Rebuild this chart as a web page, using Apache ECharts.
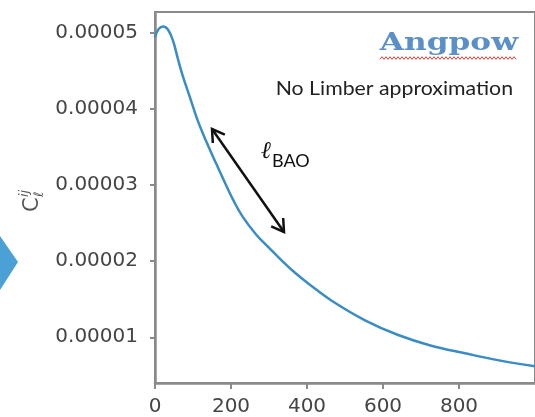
<!DOCTYPE html>
<html>
<head>
<meta charset="utf-8">
<style>
  html, body { margin: 0; padding: 0; background: #ffffff; }
  #chart { width: 535px; height: 417px; }
</style>
<script src="https://cdn.jsdelivr.net/npm/echarts@6/dist/echarts.min.js"></script>
</head>
<body>
<div id="chart"></div>
<script>
// Multipole values and angular power spectrum C_l^{ij}
const ell = [0, 10, 22, 34, 47, 60, 73, 92, 112, 135, 161, 185, 205, 231, 266, 301, 335, 370, 405, 465, 554, 640, 727, 816, 902, 1000];
const clValues = [4.94e-5, 5.05e-5, 5.08e-5, 5.04e-5, 4.90e-5, 4.66e-5, 4.43e-5, 4.15e-5, 3.85e-5, 3.57e-5, 3.28e-5, 3.02e-5, 2.81e-5, 2.58e-5, 2.35e-5, 2.17e-5, 2.00e-5, 1.84e-5, 1.70e-5, 1.48e-5, 1.22e-5, 1.03e-5, 0.89e-5, 0.79e-5, 0.70e-5, 0.62e-5];

// Axis tick positions
const xTicks = [0, 200, 400, 600, 800];
const yTicks = [0.00001, 0.00002, 0.00003, 0.00004, 0.00005];

const axisGray = '#8a8a8a';
const labelColor = '#454545';
const tickFont = 'DejaVu Sans';

const chart = echarts.init(document.getElementById('chart'), null, { renderer: 'canvas' });

// open chevron arrow head at the tip of a segment
function arrowHead(tip, from, len, ang) {
  const dx = from[0] - tip[0], dy = from[1] - tip[1];
  const a = Math.atan2(dy, dx);
  return [
    [tip[0] + len * Math.cos(a + ang), tip[1] + len * Math.sin(a + ang)],
    tip,
    [tip[0] + len * Math.cos(a - ang), tip[1] + len * Math.sin(a - ang)]
  ];
}
const arrA = [212, 129], arrB = [284, 232];

// red wavy spell-check underline beneath the logo text
const wave = [];
for (let x = 380, i = 0; x <= 516; x += 2, i++) {
  wave.push([x, 58 + (i % 2 ? -1.3 : 1.3)]);
}

const option = {
  backgroundColor: '#ffffff',
  animation: false,
  grid: {
    left: 155, right: -3, top: 12, bottom: 34,
    show: true, borderColor: axisGray, borderWidth: 2
  },
  xAxis: {
    type: 'value',
    min: 0, max: 1000,
    axisLine: { show: true, onZero: false, lineStyle: { color: axisGray, width: 2.5 } },
    axisTick: { show: true, customValues: xTicks, length: 6, lineStyle: { color: axisGray, width: 2 } },
    axisLabel: { customValues: xTicks, fontSize: 20, fontFamily: tickFont, color: labelColor, margin: 14 },
    splitLine: { show: false }
  },
  yAxis: {
    type: 'value',
    min: 0.000004, max: 0.0000527,
    axisLine: { show: true, lineStyle: { color: axisGray, width: 2.5 } },
    axisTick: { show: true, customValues: yTicks, length: 5, lineStyle: { color: axisGray, width: 2 } },
    axisLabel: {
      customValues: yTicks, fontSize: 20, fontFamily: tickFont, color: labelColor, margin: 17,
      formatter: v => v.toFixed(5)
    },
    splitLine: { show: false }
  },
  series: [{
    type: 'line',
    data: ell.map((l, i) => [l, clValues[i]]),
    smooth: 0.4,
    showSymbol: false,
    lineStyle: { color: '#3a8cc6', width: 2.5 }
  }],
  graphic: [
    // slide arrow edge at the far left
    { type: 'polygon', shape: { points: [[0, 236], [18, 262], [0, 290]] }, style: { fill: '#4ba1d6' } },
    // y-axis name C_l^{ij}
    {
      type: 'group', x: 33, y: 212, rotation: Math.PI / 2,
      children: [
        { type: 'text', x: 0, y: 0, style: { text: 'C', font: '21px "DejaVu Sans"', fill: '#555', align: 'left', verticalAlign: 'middle' } },
        { type: 'text', x: 15, y: -8, style: { text: 'ij', font: 'italic 13px "DejaVu Sans"', fill: '#555', align: 'left', verticalAlign: 'middle' } },
        { type: 'text', x: 15, y: 7, style: { text: 'ℓ', font: 'italic 13px "DejaVu Sans"', fill: '#555', align: 'left', verticalAlign: 'middle' } }
      ]
    },
    // logo text
    {
      type: 'text', x: 518, y: 56, scaleX: 1.3,
      style: { text: 'Angpow', font: 'bold 24px "DejaVu Serif"', fill: '#5a8fca', align: 'right', verticalAlign: 'bottom' }
    },
    { type: 'polyline', shape: { points: wave }, style: { stroke: '#d9403a', lineWidth: 1, fill: null } },
    {
      type: 'text', x: 513, y: 89, scaleX: 1.12,
      style: { text: 'No Limber approximation', font: '19px Lato', fill: '#222', align: 'right', verticalAlign: 'middle' }
    },
    // BAO scale arrow
    { type: 'polyline', shape: { points: [arrA, arrB] }, style: { stroke: '#111', lineWidth: 2.5, fill: null } },
    { type: 'polyline', shape: { points: arrowHead(arrA, arrB, 14, 0.55) }, style: { stroke: '#111', lineWidth: 2.5, fill: null, lineJoin: 'miter' } },
    { type: 'polyline', shape: { points: arrowHead(arrB, arrA, 14, 0.55) }, style: { stroke: '#111', lineWidth: 2.5, fill: null, lineJoin: 'miter' } },
    {
      type: 'text', x: 261, y: 164,
      style: { text: 'ℓ', font: 'italic 24px "DejaVu Serif"', fill: '#111', align: 'left', verticalAlign: 'bottom' }
    },
    {
      type: 'text', x: 272, y: 170,
      style: { text: 'BAO', font: '18px Lato', fill: '#111', align: 'left', verticalAlign: 'bottom' }
    }
  ]
};

chart.setOption(option);
</script>
</body>
</html>
